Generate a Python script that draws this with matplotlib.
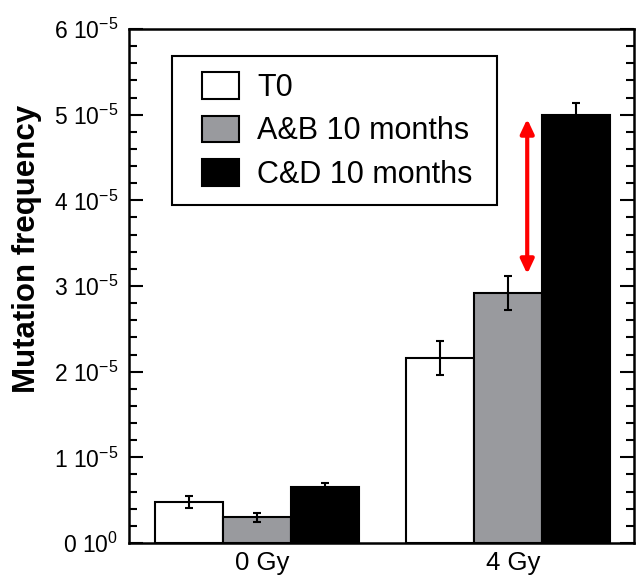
import matplotlib
matplotlib.use("Agg")
import matplotlib.pyplot as plt
import numpy as np
from matplotlib.ticker import MultipleLocator, FixedLocator
from matplotlib.patches import Rectangle

plt.rcParams['font.family'] = ['Liberation Sans', 'DejaVu Sans']
plt.rcParams['mathtext.fontset'] = 'custom'
plt.rcParams['mathtext.rm'] = 'Liberation Sans'
plt.rcParams['mathtext.it'] = 'Liberation Sans'
plt.rcParams['mathtext.default'] = 'regular'

# ---- data ----
groups = ["0 Gy", "4 Gy"]
series = ["T0", "A&B 10 months", "C&D 10 months"]
t0_vals = [0.48e-5, 2.16e-5]
ab_vals = [0.30e-5, 2.92e-5]
cd_vals = [0.65e-5, 5.00e-5]
t0_err = [0.07e-5, 0.20e-5]
ab_err = [0.055e-5, 0.20e-5]
cd_err = [0.05e-5, 0.14e-5]
ytick_vals = [0, 1e-5, 2e-5, 3e-5, 4e-5, 5e-5, 6e-5]
ytick_labels = [r"$0\ 10^{0}$", r"$1\ 10^{-5}$", r"$2\ 10^{-5}$", r"$3\ 10^{-5}$",
                r"$4\ 10^{-5}$", r"$5\ 10^{-5}$", r"$6\ 10^{-5}$"]

colors = ["white", "#999a9e", "black"]
W, H = 642, 576

fig = plt.figure(figsize=(6.42, 5.76), dpi=100)
ax = fig.add_axes([129 / W, 1 - 543 / H, 505 / W, 514 / H])

centers = np.array([0.0, 3.7])
w = 1.0
vals = [t0_vals, ab_vals, cd_vals]
errs = [t0_err, ab_err, cd_err]
handles = []
for i in range(3):
    x = centers + (i - 1) * w
    b = ax.bar(x, vals[i], width=w, color=colors[i], edgecolor="black",
               linewidth=1.5, label=series[i], zorder=2)
    handles.append(b)
    ax.errorbar(x, vals[i], yerr=errs[i], fmt="none", ecolor="black",
                elinewidth=1.5, capsize=3.2, capthick=1.5, zorder=3)

ax.set_xlim(-1.875, 5.55)
ax.set_ylim(0, 6e-5)
ax.set_xticks(centers + 0.08)
ax.set_xticklabels(groups, fontsize=18.5)
ax.tick_params(axis="x", length=0, pad=6)

ax.yaxis.set_major_locator(FixedLocator(ytick_vals))
ax.yaxis.set_minor_locator(MultipleLocator(0.2e-5))
ax.set_yticklabels(ytick_labels, fontsize=16.5)
ax.tick_params(axis="y", which="major", direction="in", length=10, width=1.5,
               right=True, left=True, pad=8)
ax.tick_params(axis="y", which="minor", direction="in", length=6, width=1.5,
               right=True, left=True)
for s in ax.spines.values():
    s.set_linewidth(1.8)

ax.set_ylabel("Mutation frequency", fontsize=22.5, fontweight="bold",
              rotation=90, ha="center", va="center")
ax.yaxis.set_label_coords((27 - 129) / 505, (543 - 249) / 514)

# legend: frame drawn separately to match the reference box size
frame = Rectangle((172 / W, 1 - 205 / H), 325 / W, 149 / H, transform=fig.transFigure,
                  facecolor="white", edgecolor="black", linewidth=1.5, zorder=5,
                  clip_on=False)
ax.add_patch(frame)
leg = ax.legend(handles=handles, labels=series, loc="upper left",
                bbox_to_anchor=(202 / W, 1 - 72 / H), bbox_transform=fig.transFigure,
                fontsize=22, frameon=False,
                handlelength=1.2, handleheight=0.96, handletextpad=0.6,
                borderpad=0, labelspacing=0.42, borderaxespad=0)
leg.set_zorder(6)
for p in leg.get_patches():
    p.set_linewidth(1.5)

# red double arrow between A&B and C&D at 4 Gy
xa = centers[1] + 0.28
ax.annotate("", xy=(xa, cd_vals[1] - 0.05e-5), xytext=(xa, ab_vals[1] + ab_err[1] + 0.02e-5),
            arrowprops=dict(arrowstyle="<|-|>,head_length=0.85,head_width=0.4",
                            color="#ff0000", lw=3, shrinkA=0, shrinkB=0), zorder=4)

fig.savefig("out.png", dpi=100)
